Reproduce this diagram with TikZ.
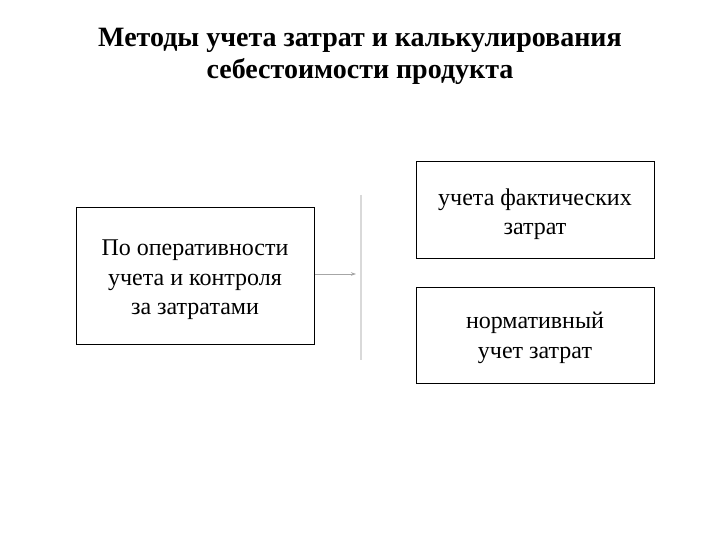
\documentclass[tikz,border=0pt]{standalone}
\usepackage{fontspec}
\setmainfont{Liberation Serif}
\usetikzlibrary{arrows.meta}
\begin{document}
\begin{tikzpicture}[x=1pt,y=-1pt,
  box/.style={draw=black,line width=1pt,fill=white,inner sep=0pt},
  boxtext/.style={align=center,inner sep=0pt,font=\fontsize{24}{29.5}\selectfont},
  ttl/.style={align=center,font=\bfseries\fontsize{28}{32}\selectfont},
  conn/.style={draw=black!35,line width=0.8pt,-{Stealth[length=5pt,width=3.5pt]}}]
\useasboundingbox[fill=white] (0,0) rectangle (720,540);
\node[ttl] (title) at (360,56) {Методы учета затрат и калькулирования\\себестоимости продукта};
\node[box,minimum width=238pt,minimum height=136pt] (src) at (195,276) {};
\node[boxtext] (srct) at ([yshift=-4pt]src.center) {По оперативности\\учета и контроля\\за затратами};
\node[box,minimum width=238pt,minimum height=96pt] (fact) at (535,210) {};
\node[boxtext] (factt) at ([yshift=-4pt]fact.center) {учета фактических\\затрат};
\node[box,minimum width=238pt,minimum height=96pt] (norm) at (535,335) {};
\node[boxtext] (normt) at ([yshift=-3pt]norm.center) {нормативный\\учет затрат};
\coordinate (vtop) at (361,195);
\coordinate (vbot) at (361,360);
\draw[draw=black!15,line width=1.4pt] (vtop) -- (vbot);
\coordinate (ah) at (356,274);
\draw[conn] (src.east |- ah) -- (ah);
\end{tikzpicture}
\end{document}
